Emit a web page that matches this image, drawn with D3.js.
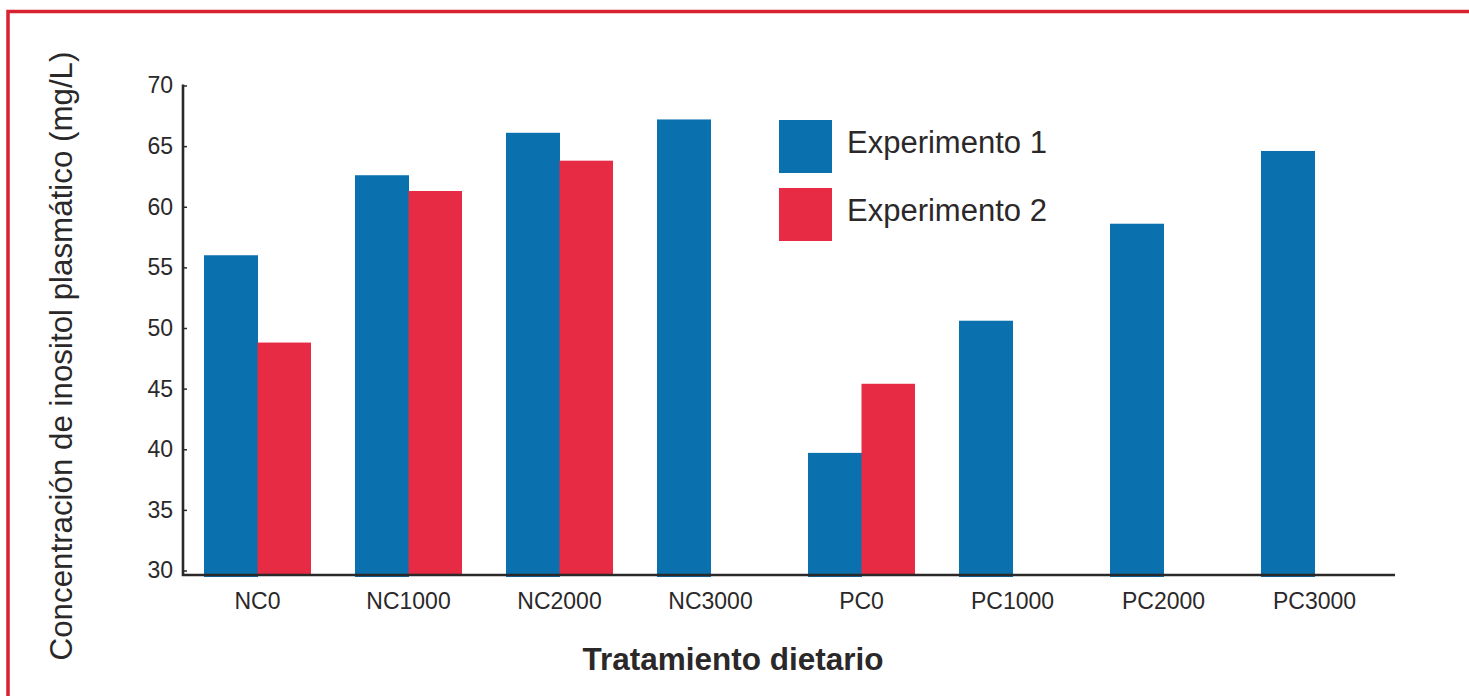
<!DOCTYPE html>
<html>
<head>
<meta charset="utf-8">
<script src="https://cdn.jsdelivr.net/npm/d3@7"></script>
<style>
  html, body { margin: 0; padding: 0; background: #fff; }
  svg { display: block; }
  text { font-family: "Liberation Sans", Arial, sans-serif; fill: #2b2829; }
</style>
</head>
<body>
<svg id="chart" width="1469" height="696"></svg>
<script>
// Dietary treatments on the x axis
const categories = ["NC0", "NC1000", "NC2000", "NC3000", "PC0", "PC1000", "PC2000", "PC3000"];
// Plasma inositol (mg/L); null where the experiment had no such treatment
const experimento1 = [56.0, 62.6, 66.1, 67.2, 39.7, 50.6, 58.6, 64.6];
const experimento2 = [48.8, 61.3, 63.8, null, 45.4, null, null, null];
const seriesNames = ["Experimento 1", "Experimento 2"];
const yTicks = [30, 35, 40, 45, 50, 55, 60, 65, 70];

const colors = ["#0a70ae", "#e72b44"];
const ink = "#2b2829";
const soft = "#3d3a3b";

const svg = d3.select("#chart");

// Red frame around the figure (runs off the right and bottom edges)
svg.append("rect")
  .attr("x", 8).attr("y", 11.5)
  .attr("width", 1500).attr("height", 720)
  .attr("fill", "none")
  .attr("stroke", "#d9222f")
  .attr("stroke-width", 3.5);

const axisX = 183, axisRight = 1395, baseY = 575;

const x = d3.scaleBand()
  .domain(categories)
  .range([axisX, 1389])
  .paddingInner(44 / 151)
  .paddingOuter(21 / 151);

const xSub = d3.scaleBand()
  .domain(seriesNames)
  .range([0, x.bandwidth()]);

const y = d3.scaleLinear().domain([30, 70]).range([570.5, 85.5]);

// Bars (a hair wider so neighbouring bars meet without a seam)
const rows = categories.map((c, i) => ({ cat: c, vals: [experimento1[i], experimento2[i]] }));
const groups = svg.append("g").selectAll("g")
  .data(rows).join("g")
  .attr("transform", d => `translate(${x(d.cat)},0)`);

groups.selectAll("rect")
  .data(d => d.vals.map((v, k) => ({ v, k })).filter(e => e.v != null))
  .join("rect")
  .attr("x", e => xSub(seriesNames[e.k]))
  .attr("width", e => xSub.bandwidth() + (e.k === 0 ? 0.5 : 0))
  .attr("y", e => y(e.v))
  .attr("height", e => baseY + (e.k === 0 ? 2 : 0) - y(e.v))
  .attr("fill", e => colors[e.k]);

// Y axis: ticks point inward
const yAxis = d3.axisLeft(y)
  .tickValues(yTicks)
  .tickSizeInner(-4)
  .tickSizeOuter(0)
  .tickPadding(10);

const gy = svg.append("g")
  .attr("transform", `translate(${axisX},0)`)
  .call(yAxis);
gy.select(".domain").remove();
gy.selectAll(".tick line").attr("stroke", ink).attr("stroke-width", 1.5);
gy.selectAll(".tick text")
  .attr("font-family", "Liberation Sans, Arial, sans-serif")
  .attr("font-size", 23)
  .attr("fill", soft);

// X axis labels
const xAxis = d3.axisBottom(x).tickSize(0).tickPadding(18);
const gx = svg.append("g")
  .attr("transform", `translate(0,${baseY})`)
  .call(xAxis);
gx.select(".domain").remove();
gx.selectAll(".tick text")
  .attr("font-family", "Liberation Sans, Arial, sans-serif")
  .attr("font-size", 23)
  .attr("fill", soft);

// Axis lines (L shape)
svg.append("path")
  .attr("d", `M${axisX},${y(70) - 1}V${baseY}H${axisRight}`)
  .attr("fill", "none")
  .attr("stroke", ink)
  .attr("stroke-width", 2.6);

// Axis titles
svg.append("text")
  .attr("transform", `translate(72,${356}) rotate(-90)`)
  .attr("text-anchor", "middle")
  .attr("font-size", 31.3)
  .attr("fill", soft)
  .text("Concentración de inositol plasmático (mg/L)");

svg.append("text")
  .attr("x", 733).attr("y", 670)
  .attr("text-anchor", "middle")
  .attr("font-size", 31.5)
  .attr("font-weight", "bold")
  .attr("fill", "#1f1c1d")
  .text("Tratamiento dietario");

// Legend
const legend = svg.append("g").attr("transform", "translate(779,120)");
seriesNames.forEach((name, k) => {
  const row = legend.append("g").attr("transform", `translate(0,${k * 68})`);
  row.append("rect").attr("width", 53).attr("height", 53).attr("fill", colors[k]);
  row.append("text")
    .attr("x", 68).attr("y", 33)
    .attr("font-size", 31)
    .attr("fill", soft)
    .text(name);
});
</script>
</body>
</html>
